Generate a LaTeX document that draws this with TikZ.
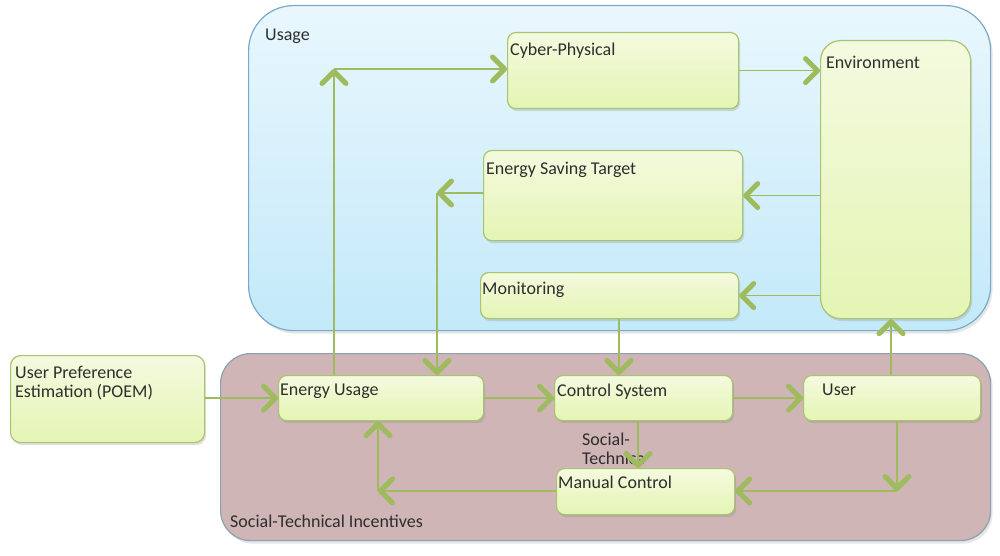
\documentclass[tikz,border=0pt]{standalone}
\usepackage{fontspec}
\setmainfont{Carlito}
\usetikzlibrary{arrows.meta,shadows}
\definecolor{arrowgreen}{HTML}{9EBB5E}
\definecolor{boxborder}{HTML}{A9C46E}
\definecolor{boxtop}{HTML}{F4FADF}
\definecolor{boxbottom}{HTML}{E4F5B4}
\definecolor{usagetop}{HTML}{E9F7FD}
\definecolor{usagebottom}{HTML}{C3E9F9}
\definecolor{usageborder}{HTML}{79AACA}
\definecolor{socialfill}{HTML}{CFB5B6}
\definecolor{socialborder}{HTML}{8E9FB2}
\definecolor{textgray}{HTML}{2E2E2E}
\begin{document}
\begin{tikzpicture}[x=1pt,y=-1pt,
  container/.style={anchor=north west, inner sep=0pt, line width=1.2pt,
    drop shadow={opacity=0.2, shadow xshift=2pt, shadow yshift=-3pt}},
  usagebox/.style={container, draw=usageborder, top color=usagetop, bottom color=usagebottom, rounded corners=45pt},
  socialbox/.style={container, draw=socialborder, fill=socialfill, rounded corners=30pt},
  box/.style={anchor=north west, inner sep=0pt, draw=boxborder, line width=1.2pt,
    rounded corners=8pt, top color=boxtop, bottom color=boxbottom,
    drop shadow={opacity=0.25, shadow xshift=1.5pt, shadow yshift=-2.5pt}},
  lbl/.style={anchor=north west, inner sep=0pt, font=\fontsize{18}{19}\selectfont,
    text=textgray, align=left},
  ln/.style={draw=arrowgreen, line width=1.5pt},
  arr/.style={ln, -{Straight Barb[length=12pt,width=24pt,line width=5pt,round]}}
]
\useasboundingbox (0,0) rectangle (1000,556);

% containers
\node[usagebox, minimum width=742pt, minimum height=325pt] (usage) at (248,5) {};
\node[socialbox, minimum width=770pt, minimum height=187pt] (social) at (220,353) {};
\node[lbl] (usaget) at (265,29) {Usage};
\node[lbl] (socialt) at (230,515) {Social-Technical Incentives};

% boxes
\node[box, minimum width=231pt, minimum height=76pt] (cp) at (507,32) {};
\node[box, minimum width=150pt, minimum height=278pt, rounded corners=20pt] (env) at (820,40) {};
\node[box, minimum width=259pt, minimum height=90pt] (est) at (483,150) {};
\node[box, minimum width=258pt, minimum height=46pt] (mon) at (480,272) {};
\node[box, minimum width=194pt, minimum height=87pt, rounded corners=10pt] (upe) at (10,355) {};
\node[box, minimum width=205pt, minimum height=45pt] (eu) at (278,375) {};
\node[box, minimum width=178pt, minimum height=45pt] (cs) at (554,375) {};
\node[box, minimum width=177pt, minimum height=45pt] (usr) at (803,375) {};
\node[box, minimum width=178pt, minimum height=46pt] (mc) at (556,468) {};

% box texts
\node[lbl] (cpt) at (510,43) {Cyber-Physical};
\node[lbl] (envt) at (826,56) {Environment};
\node[lbl] (estt) at (486,162) {Energy Saving Target};
\node[lbl] (mont) at (482,282) {Monitoring};
\node[lbl] (upet) at (15,366) {User Preference\\Estimation (POEM)};
\node[lbl] (eut) at (280,384) {Energy Usage};
\node[lbl] (cst) at (557,384) {Control System};
\node[lbl] (usrt) at (822,384) {User};
\node[lbl] (mct) at (558,476) {Manual Control};

% connector label (drawn under the arrow)
\node[lbl] (stl) at (582,433) {Social-\\Technica};

% corner coordinates
\coordinate (c1) at (334,69);
\coordinate (c2) at (437,193);
\coordinate (c3) at (619,300);
\coordinate (c4) at (891,350);
\coordinate (c5) at (897,491);
\coordinate (c6) at (378,491);
\coordinate (c7) at (638,440);

% connectors
\draw[arr] (eu.north -| c1) -- (c1);
\draw[arr] (c1) -- (c1 -| cp.west);
\draw[arr] (cp.east) -- (cp.east -| env.west);
\draw[arr] (est.east -| env.west) -- (est.east);
\draw[arr] (c2 -| est.west) -- (c2);
\draw[arr] (c2) -- (c2 |- eu.north);
\draw[arr] (mon.east -| env.west) -- (mon.east);
\draw[arr] (c3 |- mon.south) -- (c3 |- cs.north);
\draw[arr] (upe.east |- eu.west) -- (eu.west);
\draw[arr] (eu.east) -- (cs.west);
\draw[arr] (cs.east) -- (usr.west);
\draw[arr] (c4 |- usr.north) -- (c4 |- env.south);
\draw[arr] (c5 |- usr.south) -- (c5);
\draw[arr] (c5) -- (c5 -| mc.east);
\draw[arr] (c7 |- cs.south) -- (c7 |- mc.north);
\draw[arr] (mc.west |- c6) -- (c6);
\draw[arr] (c6) -- (c6 |- eu.south);
\end{tikzpicture}
\end{document}
